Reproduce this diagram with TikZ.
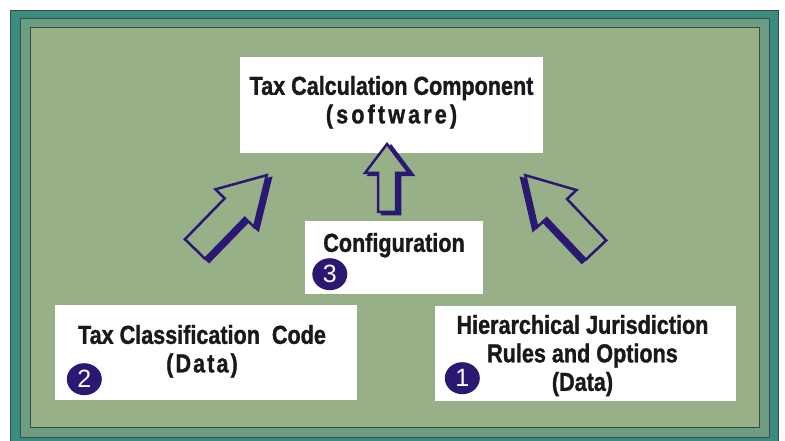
\documentclass[tikz,border=0pt]{standalone}
\usepackage{fontspec}
\setmainfont{Liberation Sans}
\newfontfamily\boxfont{Liberation Sans}[FakeStretch=0.83,BoldFeatures={FakeBold=1.2}]
\usepackage{tikz}
\usetikzlibrary{positioning,shapes.geometric}
\definecolor{frameteal}{HTML}{3A8C80}
\definecolor{bandteal}{HTML}{6C9E84}
\definecolor{panelgreen}{HTML}{97B088}
\definecolor{inkblue}{HTML}{2B1873}
\definecolor{rimgray}{HTML}{3C4A40}
\def \boxtext {\boxfont\bfseries\fontsize{26}{28.5}\selectfont}
\def \wide {\addfontfeature{LetterSpace=12}}
\def \arrowpath #1#2#3#4{(0,-#4) -- (#1-#2,-#4) -- (#1-#2,-#3) -- (#1,0) -- (#1-#2,#3) -- (#1-#2,#4) -- (0,#4) -- cycle}
\newcommand{\fatarrow}[7]{%
\begin{scope}[shift={#7},shift={#1},rotate=#2]
\filldraw [inkblue,line width=2.5pt,line join=miter] \arrowpath{#3}{#4}{#5}{#6};
\end{scope}
\begin{scope}[shift={#1},rotate=#2]
\filldraw [fill=panelgreen,draw=inkblue,line width=2.5pt,line join=miter] \arrowpath{#3}{#4}{#5}{#6};
\end{scope}}

\begin{document}
\begin{tikzpicture}[x=1pt,y=-1pt]
\tikzstyle{box}=[fill=white,inner sep=0pt];
\tikzstyle{boxlabel}=[align=center,inner sep=0pt,font=\boxtext,text=black!90];
\tikzstyle{badge}=[ellipse,fill=inkblue,text=white,minimum width=35pt,minimum height=32pt,inner sep=0pt,font=\fontsize{25}{25}\selectfont];
\useasboundingbox (0,0) rectangle (785,441);
\filldraw [fill=frameteal,draw=rimgray] (10,10) rectangle (778,445);
\filldraw [fill=bandteal,draw=rimgray] (20,18) rectangle (769,437);
\filldraw [fill=panelgreen,draw=rimgray] (30,27) rectangle (759,427);
\node (calc) [box,minimum width=303pt,minimum height=96pt] at (391.5,105) {};
\node (config) [box,minimum width=178pt,minimum height=73pt] at (394,257.5) {};
\node (class) [box,minimum width=302pt,minimum height=95pt] at (206,352.5) {};
\node (juris) [box,minimum width=301pt,minimum height=95pt] at (585.5,353.5) {};
\node (calclabel) [boxlabel,below=19pt of calc.north] {Tax Calculation Component\\{\wide(software)}};
\node (configlabel) [boxlabel,below=12pt of config.north] {Configuration};
\node (classlabel) [boxlabel,below=20pt of class.north,xshift=-4pt] {Tax Classification\ \ Code\\{\addfontfeature{LetterSpace=8}(Data)}};
\node (jurislabel) [boxlabel,below=9pt of juris.north,xshift=-3pt] {Hierarchical Jurisdiction\\Rules and Options\\(Data)};
\node (three) [badge,above right=20pt and 25pt of config.south west,anchor=center] {3};
\node (two) [badge,above right=21pt and 29.5pt of class.south west,anchor=center] {2};
\node (one) [badge,above right=23pt and 27.5pt of juris.south west,anchor=center] {1};
\fatarrow{(195,249)}{45.8}{103}{46}{27}{14}{(4,3)}
\fatarrow{(387,212)}{90}{68}{29}{22}{9}{(4,2)}
\fatarrow{(596,250)}{133.4}{103}{46}{27}{14}{(-4,3)}
\end{tikzpicture}
\end{document}
